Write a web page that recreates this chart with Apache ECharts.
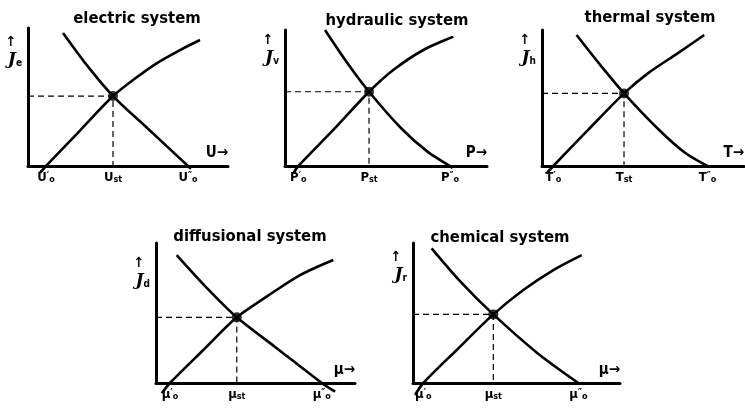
<!DOCTYPE html>
<html>
<head>
<meta charset="utf-8">
<script src="https://cdn.jsdelivr.net/npm/echarts@6/dist/echarts.min.js"></script>
<style>
  html, body { margin: 0; padding: 0; background: #fff; }
  #chart { width: 745px; height: 416px; }
</style>
</head>
<body>
<div id="chart"></div>
<script>
// Five flux/force diagrams: a rising and a falling characteristic per system,
// crossing at the steady state (x_st, J_st). Axis units run 0..100 per panel.
const titles = ['electric system', 'hydraulic system', 'thermal system', 'diffusional system', 'chemical system'];
const forceSymbols = ['U', 'P', 'T', 'μ', 'μ'];
const fluxSubscripts = ['e', 'v', 'h', 'd', 'r'];

// Rising characteristic (starts at the lower intercept x'0)
const risingCurves = [
  [[6, -5], [9, 0], [26, 25.7], [42.5, 50.7], [52.5, 62.3], [64.5, 74.6], [76, 84], [86, 91.3]],
  [[4.1, -5.4], [6.6, 0], [23.9, 26.5], [41.6, 54.6], [53.6, 70.6], [68.5, 85.3], [83.3, 95.1]],
  [[2.3, -5.4], [5.6, 0], [22.8, 26.5], [40.6, 53.4], [52.4, 68.1], [67.1, 82.8], [80.3, 96.3]],
  [[2.9, -7.4], [7, 0], [23.8, 23.6], [40.6, 46.9], [55.6, 61.7], [72.4, 77.1], [89.1, 87.9]],
  [[1, -8.6], [5, 0], [21.1, 23.6], [38.8, 49], [53.3, 66.4], [67.8, 80.7], [81.5, 91.4]]
];

// Falling characteristic (reaches zero at the upper intercept x''0)
const fallingCurves = [
  [[17.5, 96.4], [30, 72], [42.5, 50.7], [60, 27], [80, 0], [81.5, -2]],
  [[19.8, 100], [30.5, 76.5], [41.6, 54.6], [58, 27], [71, 10], [81.7, 0], [83, -1.5]],
  [[17.1, 96.3], [29, 74], [40.6, 53.4], [58, 26.5], [71, 9.5], [81.9, 0]],
  [[10.4, 91.4], [25.5, 68], [40.6, 46.9], [60, 25.6], [83.3, 0], [90, -6.2]],
  [[9, 96.2], [23.5, 71.5], [38.8, 49], [60, 21.5], [79.9, 0]]
];

// Steady state and the two zero-flux intercepts on the force axis
const steadyX = [42.5, 41.6, 40.6, 40.6, 38.8];
const steadyY = [50.7, 54.6, 53.4, 46.9, 49];
const lowerIntercepts = [9, 6.6, 5.6, 7, 5];
const upperIntercepts = [80, 81.7, 81.9, 83.3, 79.9];

// Panel frames (pixels)
const panels = [
  { left: 28, top: 28, width: 200, height: 138, titleX: 137, titleY: 10, nameGap: -24 },
  { left: 285, top: 30, width: 202, height: 136, titleX: 397, titleY: 12, nameGap: -20 },
  { left: 542, top: 30, width: 203, height: 136, titleX: 650, titleY: 9, nameGap: -20 },
  { left: 156, top: 243, width: 199, height: 140, titleX: 250, titleY: 228, nameGap: -30 },
  { left: 413, top: 243, width: 207, height: 140, titleX: 500, titleY: 229, nameGap: -24 }
];

const ink = '#000';
const hand = "'DejaVu Sans Condensed', 'DejaVu Sans', sans-serif";

const labelRich = {
  m: { fontSize: 13, fontWeight: 'bold', color: ink, fontFamily: hand },
  p: { fontSize: 10, fontWeight: 'bold', color: ink, fontFamily: hand, verticalAlign: 'top' },
  s: { fontSize: 9, fontWeight: 'bold', color: ink, fontFamily: hand, verticalAlign: 'bottom' }
};

const grid = [], xAxis = [], yAxis = [], series = [], title = [];

panels.forEach((p, i) => {
  grid.push({ left: p.left, top: p.top, width: p.width, height: p.height });
  title.push({
    text: titles[i], left: p.titleX, top: p.titleY, textAlign: 'center', padding: 0,
    textStyle: { fontFamily: hand, fontSize: 16.5, fontWeight: 'bold', color: ink }
  });

  const sym = forceSymbols[i];
  const ticks = [lowerIntercepts[i], steadyX[i], upperIntercepts[i]];
  const tickText = [
    '{m|' + sym + '}{p|′}{s|o}',
    '{m|' + sym + '}{s|st}',
    '{m|' + sym + '}{p|″}{s|o}'
  ];

  xAxis.push({
    gridIndex: i, type: 'value', min: 0, max: 100,
    name: sym + '→', nameLocation: 'end', nameGap: 0,
    nameTextStyle: {
      align: 'right', verticalAlign: 'bottom', padding: [0, 0, 5, 0],
      fontSize: 15, fontWeight: 'bold', color: ink, fontFamily: hand
    },
    axisLine: { show: true, onZero: false, lineStyle: { color: ink, width: 3 } },
    axisTick: { show: false },
    splitLine: { show: false },
    axisLabel: {
      customValues: ticks, margin: 5, color: ink, rich: labelRich,
      formatter: v => {
        let k = 0, best = Infinity;
        ticks.forEach((t, j) => { const d = Math.abs(t - v); if (d < best) { best = d; k = j; } });
        return tickText[k];
      }
    }
  });

  yAxis.push({
    gridIndex: i, type: 'value', min: 0, max: 100,
    name: '{a|↑}\n{j|J}{s|' + fluxSubscripts[i] + '}',
    nameLocation: 'end', nameGap: p.nameGap,
    nameTextStyle: {
      align: 'right', verticalAlign: 'middle', padding: [0, 6, 0, 0],
      rich: {
        a: { fontSize: 14, fontWeight: 'bold', color: ink, padding: [0, 6, 2, 0], fontFamily: hand },
        j: { fontSize: 17, fontWeight: 'bold', fontStyle: 'italic', color: ink, fontFamily: "'DejaVu Serif', serif" },
        s: { fontSize: 10, fontWeight: 'bold', color: ink, verticalAlign: 'bottom', fontFamily: hand }
      }
    },
    axisLine: { show: true, onZero: false, lineStyle: { color: ink, width: 3 } },
    axisTick: { show: false },
    axisLabel: { show: false },
    splitLine: { show: false }
  });

  series.push({
    type: 'line', xAxisIndex: i, yAxisIndex: i, silent: true, symbol: 'none',
    data: [[0, steadyY[i]], [steadyX[i], steadyY[i]], [steadyX[i], 0]],
    lineStyle: { color: ink, width: 1.2, type: [6, 4] }, z: 1
  });
  series.push({
    type: 'line', xAxisIndex: i, yAxisIndex: i, silent: true, symbol: 'none',
    smooth: 0.3, clip: false, data: risingCurves[i],
    lineStyle: { color: ink, width: 2.6 }, z: 2
  });
  series.push({
    type: 'line', xAxisIndex: i, yAxisIndex: i, silent: true, symbol: 'none',
    smooth: 0.3, clip: false, data: fallingCurves[i],
    lineStyle: { color: ink, width: 2.6 }, z: 2
  });
  series.push({
    type: 'scatter', xAxisIndex: i, yAxisIndex: i, silent: true,
    data: [[steadyX[i], steadyY[i]]], symbolSize: 10,
    itemStyle: { color: ink }, z: 3
  });
});

const chart = echarts.init(document.getElementById('chart'), null, { renderer: 'canvas' });
chart.setOption({
  animation: false,
  backgroundColor: '#fff',
  title, grid, xAxis, yAxis, series
});
</script>
</body>
</html>
